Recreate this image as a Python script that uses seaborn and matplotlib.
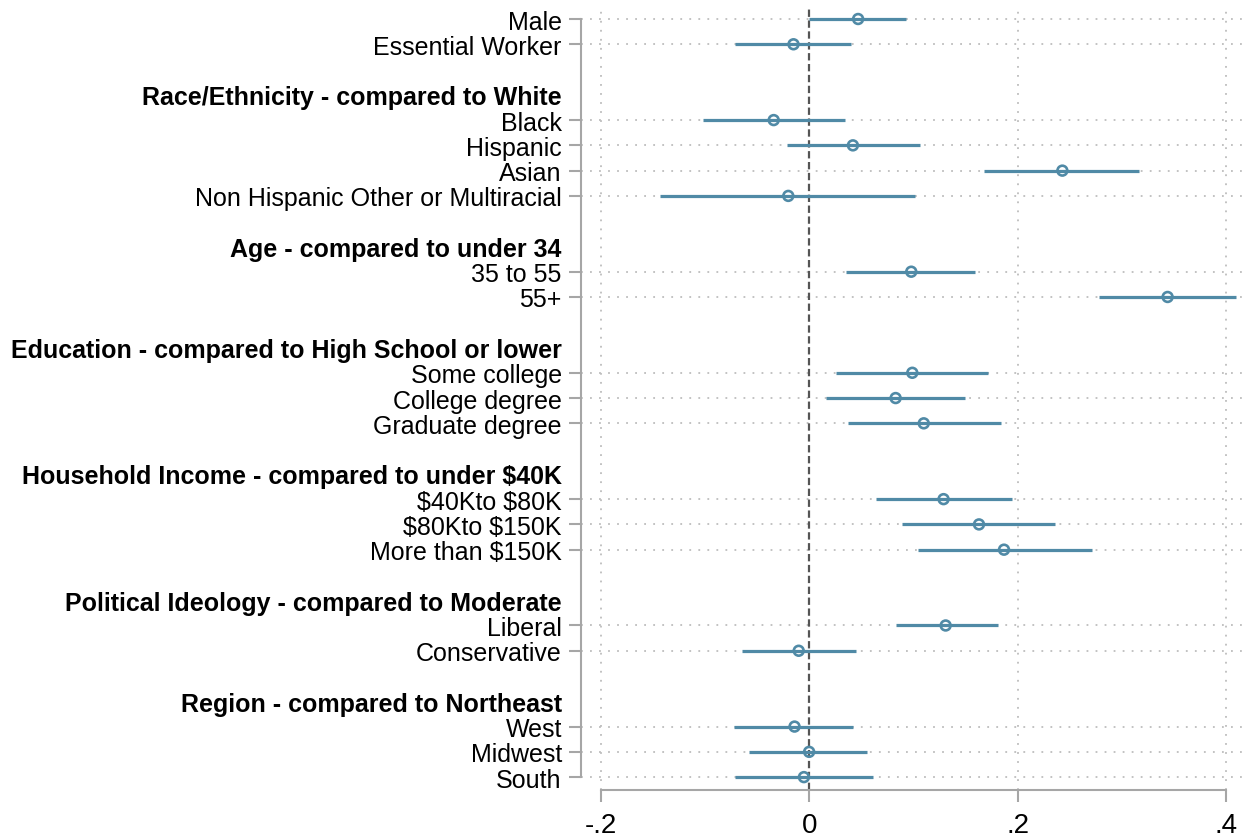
import matplotlib.pyplot as plt
import numpy as np
import pandas as pd
import seaborn as sns

# coefficient estimates with 95% CI
terms = ["Male", "Essential Worker",
         "Black", "Hispanic", "Asian", "Non Hispanic Other or Multiracial",
         "35 to 55", "55+",
         "Some college", "College degree", "Graduate degree",
         r"\$40Kto \$80K", r"\$80Kto \$150K", r"More than \$150K",
         "Liberal", "Conservative",
         "West", "Midwest", "South"]
groups = ["", ""] + \
    ["Race/Ethnicity - compared to White"] * 4 + \
    ["Age - compared to under 34"] * 2 + \
    ["Education - compared to High School or lower"] * 3 + \
    [r"Household Income - compared to under \$40K"] * 3 + \
    ["Political Ideology - compared to Moderate"] * 2 + \
    ["Region - compared to Northeast"] * 3
estimate = [0.047, -0.015, -0.034, 0.042, 0.243, -0.020, 0.098, 0.344,
            0.099, 0.083, 0.110, 0.129, 0.163, 0.187, 0.131, -0.010,
            -0.014, 0.000, -0.005]
ci_low = [0.000, -0.071, -0.102, -0.021, 0.168, -0.143, 0.035, 0.278,
          0.026, 0.016, 0.037, 0.064, 0.089, 0.104, 0.083, -0.064,
          -0.072, -0.058, -0.071]
ci_high = [0.093, 0.040, 0.034, 0.106, 0.317, 0.102, 0.159, 0.410,
           0.172, 0.150, 0.184, 0.195, 0.236, 0.271, 0.181, 0.045,
           0.042, 0.056, 0.061]
xticks = [-0.2, 0, 0.2, 0.4]
xtick_labels = ["-.2", "0", ".2", ".4"]

color = "#508aa6"
axis_gray = "#a6a6a6"

# lay out rows: a blank row and a bold header before every new group
pos, tick_pos, tick_lab, is_head = [], [], [], []
row, prev = 0, None
for term, grp in zip(terms, groups):
    if grp != prev:
        if grp:
            if row > 0:
                row += 1
            tick_pos.append(row)
            tick_lab.append(grp)
            is_head.append(True)
            row += 1
        prev = grp
    pos.append(row)
    tick_pos.append(row)
    tick_lab.append(term)
    is_head.append(False)
    row += 1

df = pd.DataFrame({"term": terms, "y": pos, "est": estimate,
                   "lo": ci_low, "hi": ci_high})

sns.set_style("white")
plt.rcParams['font.family'] = ['Liberation Sans', 'DejaVu Sans']

fig = plt.figure(figsize=(12.48, 8.37), dpi=100)
ax = fig.add_axes([580.7 / 1248, 46 / 837, 663.3 / 1248, 783 / 837])

ax.hlines(df["y"], df["lo"], df["hi"], color=color, lw=2.3, zorder=3)
sns.scatterplot(data=df, x="est", y="y", ax=ax, marker="o", s=50,
                color=color, edgecolor=color, linewidth=1.9, zorder=4,
                legend=False)
ax.collections[-1].set_facecolor("none")

ax.axvline(0, color="#555555", lw=1.6, dashes=(3.3, 1.6), zorder=2)

ax.set_xticks(xticks, xtick_labels)
ax.set_yticks(tick_pos, tick_lab)
ax.set_xlim(-0.2192, 0.4173)
ax.set_ylim(max(pos) + 0.51, -0.475)
ax.set_xlabel("")
ax.set_ylabel("")

for side in ["top", "right"]:
    ax.spines[side].set_visible(False)
ax.spines["left"].set_bounds(0, max(pos))
ax.spines["bottom"].set_bounds(-0.2, 0.4)
for side in ["left", "bottom"]:
    ax.spines[side].set_color(axis_gray)
    ax.spines[side].set_linewidth(1.5)

ax.tick_params(axis="y", length=8.6, width=1.5, color=axis_gray, pad=5,
               labelsize=18, labelcolor="black", left=True)
ax.tick_params(axis="x", length=8.6, width=1.5, color=axis_gray, pad=7,
               labelsize=20, labelcolor="black", bottom=True)

ax.grid(True, ls=(0, (1, 4)), color="#bdbdbd", lw=1.3)
for t, v in zip(ax.xaxis.get_major_ticks(), xticks):
    if v == 0:
        t.gridline.set_visible(False)
for t, head in zip(ax.yaxis.get_major_ticks(), is_head):
    if head:
        t.tick1line.set_visible(False)
        t.gridline.set_visible(False)
        t.label1.set_fontweight("bold")

fig.savefig("out.png", dpi=100)
